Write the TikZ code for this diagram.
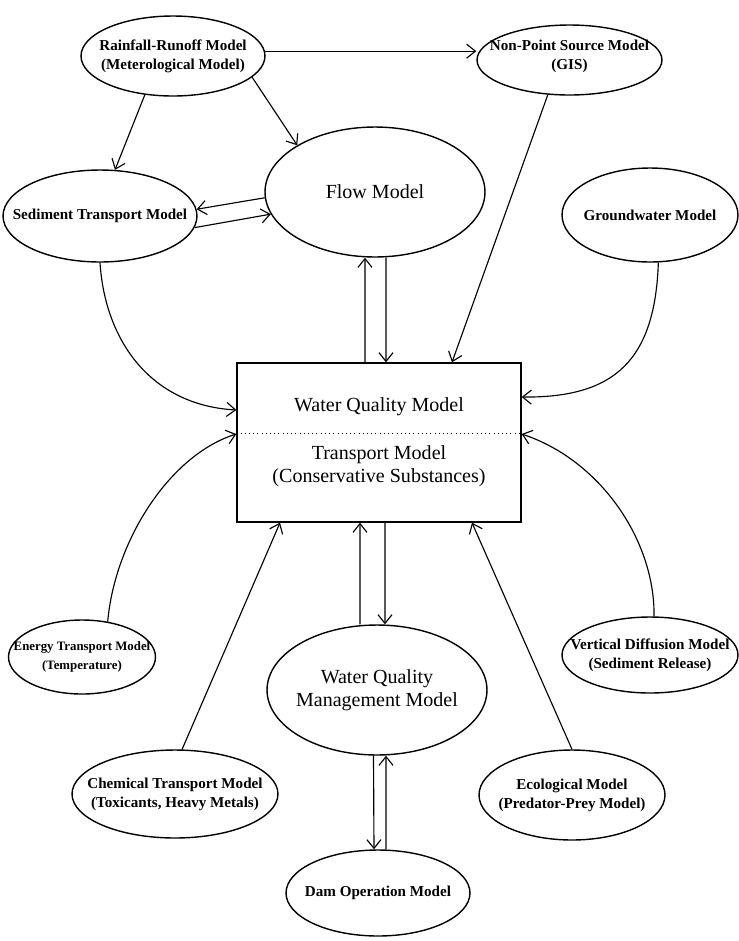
\documentclass[tikz,border=0pt]{standalone}
\usepackage{fontspec}
\setmainfont{Liberation Serif}
\usetikzlibrary{shapes.geometric,arrows.meta}

\begin{document}
\begin{tikzpicture}[x=0.02cm,y=-0.02cm,
        model/.style={draw,ellipse,line width=0.8pt,inner sep=0pt},
        small/.style={font=\fontsize{8.6}{10.8}\selectfont\bfseries,align=center},
        large/.style={font=\fontsize{11.4}{13}\selectfont,align=center},
        arr/.style={-{Straight Barb[length=5pt,width=8pt]},line width=0.65pt}]
        \useasboundingbox (0,0) rectangle (739,941);
        %% models top row
        \node[model,minimum width=3.68cm,minimum height=1.6cm,label={[small]center:{Rainfall-Runoff Model\\(Meterological Model)}}] (RR) at (173,56) {};
        \node[model,minimum width=3.7cm,minimum height=1.4cm,label={[small,yshift=2pt]center:{Non-Point Source Model\\(GIS)}}] (NPS) at (569.5,60) {};
        %% models second row
        \node[model,minimum width=3.88cm,minimum height=1.84cm,label={[small]center:{Sediment Transport Model}}] (ST) at (100,216) {};
        \node[model,minimum width=4.4cm,minimum height=2.6cm,label={[large]center:{Flow Model}}] (FM) at (375,192) {};
        \node[model,minimum width=3.52cm,minimum height=1.88cm,label={[small]center:{Groundwater Model}}] (GW) at (650,215) {};
        %% central box
        \node[draw,line width=0.8pt,minimum width=5.68cm,minimum height=3.18cm] (BX) at (379,442.5) {};
        \draw[dotted] ([yshift=0.19cm]BX.west) -- ([yshift=0.19cm]BX.east);
        \node[large] (WQ) at (379,407) {Water Quality Model};
        \node[large] (TM) at (379,466) {Transport Model\\(Conservative Substances)};
        %% models lower rows
        \node[model,minimum width=2.94cm,minimum height=1.48cm,label={[small,font=\fontsize{7.3}{10.5}\selectfont\bfseries]center:{Energy Transport Model\\(Temperature)}}] (ET) at (82,657) {};
        \node[model,minimum width=4.4cm,minimum height=2.6cm,label={[large]center:{Water Quality\\Management Model}}] (WM) at (377,690) {};
        \node[model,minimum width=3.52cm,minimum height=1.52cm,label={[small]center:{Vertical Diffusion Model\\(Sediment Release)}}] (VD) at (650,655) {};
        \node[model,minimum width=4.12cm,minimum height=1.76cm,label={[small]center:{Chemical Transport Model\\(Toxicants, Heavy Metals)}}] (CT) at (175,794) {};
        \node[model,minimum width=3.72cm,minimum height=1.8cm,label={[small]center:{Ecological Model\\(Predator-Prey Model)}}] (EM) at (572,795) {};
        \node[model,minimum width=3.68cm,minimum height=1.72cm,label={[small]center:{Dam Operation Model}}] (DO) at (378,893) {};
        %% upper arrows
        \draw[arr] (RR.3) -- (RR.3 -| NPS.west);
        \draw[arr] (RR.234) -- (ST.72);
        \draw[arr] (RR.-15) -- (FM.149);
        \draw[arr] (FM.183) -- (ST.4);
        \draw[arr] (ST.-7) -- (FM.192);
        \draw[arr] ([xshift=-0.28cm]BX.north) -- ([xshift=-0.2cm]FM.south);
        \draw[arr] ([xshift=0.22cm]FM.south) -- ([xshift=0.14cm]BX.north);
        \draw[arr] (NPS.238) -- ([xshift=1.46cm]BX.north);
        %% curved arrows into the box
        \draw[arr] (ST.south) .. controls (105,340) and (150,405) .. ([yshift=0.65cm]BX.west);
        \draw[arr] (GW.-80) .. controls (655,360) and (615,398) .. ([yshift=0.91cm]BX.east);
        \draw[arr] (ET.54) .. controls (115,540) and (170,455) .. ([yshift=0.17cm]BX.west);
        \draw[arr] (VD.84) .. controls (655,540) and (600,460) .. ([yshift=0.17cm]BX.east);
        %% lower arrows
        \draw[arr] (CT.81) -- ([xshift=-1.98cm]BX.south);
        \draw[arr] (EM.north) -- ([xshift=1.86cm]BX.south);
        \draw[arr] ([xshift=-0.34cm]WM.north) -- ([xshift=-0.38cm]BX.south);
        \draw[arr] ([xshift=0.12cm]BX.south) -- ([xshift=0.16cm]WM.north);
        \draw[arr] ([xshift=-0.07cm]WM.south) -- ([xshift=-0.08cm]DO.north);
        \draw[arr] ([xshift=0.16cm]DO.north) -- ([xshift=0.18cm]WM.south);
    \end{tikzpicture}
\end{document}
